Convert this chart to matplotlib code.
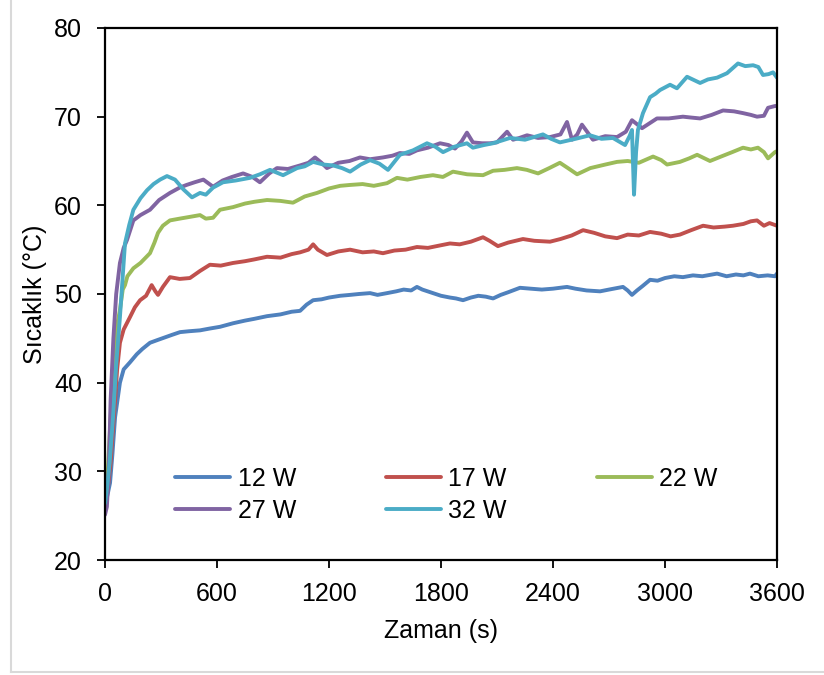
import matplotlib
matplotlib.use("Agg")
import matplotlib.pyplot as plt
from matplotlib.lines import Line2D

plt.rcParams['font.family'] = ['Liberation Sans', 'DejaVu Sans']

labels = ["12 W", "17 W", "22 W", "27 W", "32 W"]
colors = ["#4F81BD", "#C0504D", "#9BBB59", "#8064A2", "#4BACC6"]

t12 = [0, 15, 27, 40, 54, 70, 80, 100, 134, 170, 200, 241, 280, 320, 360, 402, 450, 509, 560, 616, 686, 750, 800, 868, 940, 1000, 1045, 1080, 1115, 1160, 1200, 1260, 1313, 1360, 1420, 1460, 1511, 1560, 1600, 1640, 1671, 1700, 1757, 1800, 1848, 1880, 1918, 1960, 2000, 2040, 2079, 2120, 2160, 2223, 2280, 2340, 2400, 2475, 2520, 2580, 2652, 2700, 2775, 2800, 2823, 2850, 2880, 2920, 2960, 3000, 3050, 3096, 3150, 3200, 3279, 3330, 3380, 3420, 3455, 3500, 3550, 3589, 3600]
T12 = [26.2, 27.5, 28.7, 32, 36.1, 38.5, 40, 41.5, 42.3, 43.2, 43.8, 44.5, 44.8, 45.1, 45.4, 45.7, 45.8, 45.9, 46.1, 46.3, 46.7, 47.0, 47.2, 47.5, 47.7, 48.0, 48.1, 48.8, 49.3, 49.4, 49.6, 49.8, 49.9, 50.0, 50.1, 49.9, 50.1, 50.3, 50.5, 50.4, 50.8, 50.5, 50.1, 49.8, 49.6, 49.5, 49.3, 49.6, 49.8, 49.7, 49.5, 49.9, 50.2, 50.7, 50.6, 50.5, 50.6, 50.8, 50.6, 50.4, 50.3, 50.5, 50.8, 50.4, 49.9, 50.4, 50.9, 51.6, 51.5, 51.8, 52.0, 51.9, 52.1, 52.0, 52.3, 52.0, 52.2, 52.1, 52.3, 52.0, 52.1, 52.0, 52.3]

t17 = [0, 15, 30, 45, 54, 65, 80, 100, 134, 160, 188, 220, 250, 270, 284, 310, 348, 400, 455, 509, 562, 620, 686, 750, 800, 868, 940, 1000, 1045, 1090, 1115, 1140, 1189, 1250, 1313, 1380, 1440, 1489, 1550, 1610, 1671, 1730, 1800, 1848, 1900, 1960, 2025, 2060, 2105, 2160, 2239, 2300, 2384, 2440, 2500, 2561, 2620, 2680, 2743, 2800, 2860, 2920, 2980, 3030, 3080, 3140, 3204, 3260, 3320, 3364, 3420, 3460, 3493, 3530, 3560, 3600]
T17 = [26.0, 28, 31, 35.5, 38.0, 41.5, 44.5, 46, 47.4, 48.5, 49.3, 49.8, 51.0, 50.3, 49.9, 50.8, 51.9, 51.7, 51.8, 52.6, 53.3, 53.2, 53.5, 53.7, 53.9, 54.2, 54.1, 54.5, 54.7, 55.0, 55.6, 55.0, 54.4, 54.8, 55.0, 54.7, 54.8, 54.6, 54.9, 55.0, 55.3, 55.2, 55.5, 55.7, 55.6, 55.9, 56.4, 56.0, 55.4, 55.8, 56.2, 56.0, 55.9, 56.2, 56.6, 57.2, 56.9, 56.5, 56.3, 56.7, 56.6, 57.0, 56.8, 56.5, 56.7, 57.2, 57.7, 57.5, 57.6, 57.7, 57.9, 58.2, 58.3, 57.7, 58.0, 57.7]

t22 = [0, 15, 30, 45, 54, 65, 80, 95, 107, 120, 152, 190, 241, 265, 284, 310, 348, 400, 455, 509, 540, 579, 616, 686, 750, 800, 868, 940, 1007, 1070, 1136, 1200, 1260, 1313, 1380, 1440, 1511, 1564, 1620, 1690, 1757, 1810, 1864, 1940, 2025, 2079, 2140, 2207, 2260, 2320, 2380, 2437, 2480, 2529, 2600, 2680, 2743, 2800, 2860, 2936, 2980, 3011, 3080, 3130, 3172, 3241, 3300, 3360, 3418, 3460, 3498, 3530, 3552, 3589, 3600]
T22 = [26.0, 30, 36, 41, 43.7, 46.5, 48.2, 50.5, 51.0, 52.0, 52.9, 53.5, 54.6, 55.8, 56.9, 57.7, 58.3, 58.5, 58.7, 58.9, 58.5, 58.6, 59.5, 59.8, 60.2, 60.4, 60.6, 60.5, 60.3, 61.0, 61.4, 61.9, 62.2, 62.3, 62.4, 62.2, 62.5, 63.1, 62.9, 63.2, 63.4, 63.2, 63.8, 63.5, 63.4, 63.9, 64.0, 64.2, 64.0, 63.6, 64.2, 64.8, 64.2, 63.5, 64.2, 64.6, 64.9, 65.0, 64.8, 65.5, 65.1, 64.6, 64.9, 65.3, 65.7, 65.0, 65.5, 66.0, 66.5, 66.3, 66.5, 66.0, 65.3, 66.0, 66.1]

t27 = [0, 10, 20, 30, 45, 60, 80, 100, 118, 152, 190, 241, 290, 348, 400, 437, 480, 527, 579, 630, 680, 740, 790, 830, 880, 921, 980, 1045, 1090, 1125, 1160, 1189, 1250, 1310, 1366, 1420, 1489, 1540, 1580, 1630, 1671, 1730, 1795, 1840, 1875, 1910, 1939, 1971, 2020, 2063, 2100, 2154, 2186, 2220, 2261, 2320, 2384, 2440, 2475, 2502, 2530, 2555, 2614, 2680, 2743, 2790, 2823, 2877, 2957, 3020, 3096, 3140, 3188, 3250, 3311, 3370, 3418, 3460, 3493, 3530, 3552, 3589, 3600]
T27 = [25.1, 26, 30, 38, 45, 50, 53.5, 55.2, 56.1, 58.3, 58.9, 59.5, 60.6, 61.4, 62.0, 62.3, 62.6, 62.9, 62.1, 62.8, 63.2, 63.6, 63.2, 62.6, 63.6, 64.2, 64.1, 64.5, 64.8, 65.4, 64.8, 64.2, 64.8, 65.0, 65.4, 65.2, 65.4, 65.6, 65.9, 65.8, 66.2, 66.5, 67.0, 66.8, 66.4, 67.2, 68.2, 67.1, 67.0, 67.0, 67.1, 68.3, 67.4, 67.6, 67.9, 67.6, 67.7, 68.0, 69.4, 67.4, 68.0, 69.1, 67.4, 67.8, 67.7, 68.3, 69.6, 68.7, 69.8, 69.8, 70.0, 69.9, 69.8, 70.2, 70.7, 70.6, 70.4, 70.2, 70.0, 70.1, 71.0, 71.2, 71.2]

t32 = [0, 10, 25, 43, 60, 80, 95, 107, 130, 152, 190, 225, 260, 295, 332, 375, 420, 466, 509, 540, 579, 632, 700, 777, 830, 884, 954, 1029, 1070, 1115, 1170, 1222, 1270, 1313, 1370, 1420, 1470, 1516, 1580, 1650, 1725, 1770, 1811, 1870, 1939, 1971, 2030, 2079, 2170, 2250, 2346, 2390, 2437, 2520, 2598, 2660, 2721, 2786, 2810, 2823, 2834, 2845, 2855, 2882, 2920, 2950, 2973, 3027, 3064, 3118, 3188, 3230, 3279, 3332, 3391, 3430, 3472, 3500, 3525, 3555, 3579, 3600]
T32 = [26.4, 28, 31, 36.1, 42, 47.4, 52, 55.7, 57.8, 59.5, 60.8, 61.7, 62.4, 62.9, 63.3, 62.9, 61.8, 60.9, 61.4, 61.2, 62.0, 62.6, 62.8, 63.1, 63.5, 64.0, 63.4, 64.2, 64.4, 64.9, 64.6, 64.5, 64.2, 63.8, 64.6, 65.1, 64.7, 64.0, 65.7, 66.2, 67.0, 66.6, 66.0, 66.6, 67.0, 66.5, 66.8, 67.0, 67.6, 67.4, 68.0, 67.5, 67.1, 67.5, 67.9, 67.5, 67.6, 66.8, 67.8, 68.5, 61.2, 66.0, 68.5, 70.4, 72.2, 72.6, 73.0, 73.6, 73.2, 74.5, 73.8, 74.2, 74.4, 74.9, 76.0, 75.7, 75.8, 75.6, 74.7, 74.8, 75.0, 74.4]

times = [t12, t17, t22, t27, t32]
temps = [T12, T17, T22, T27, T32]

x_ticks = [0, 600, 1200, 1800, 2400, 3000, 3600]
y_ticks = [20, 30, 40, 50, 60, 70, 80]

W, H = 824, 675
fig = plt.figure(figsize=(W / 100, H / 100), dpi=100)
ax = fig.add_axes([105 / W, 1 - 560 / H, 672 / W, 532 / H])

handles = []
for t, T, lab, c in zip(times, temps, labels, colors):
    h, = ax.plot(t, T, color=c, lw=2.8, label=lab, solid_joinstyle='round',
                 solid_capstyle='round')
    handles.append(h)

ax.set_xlim(0, 3600)
ax.set_ylim(20, 80)
ax.set_xticks(x_ticks)
ax.set_yticks(y_ticks)
ax.tick_params(axis='both', labelsize=18, direction='out', length=5.5, width=1.3, color='black')
ax.tick_params(axis='x', pad=10)
ax.tick_params(axis='y', pad=11)
for s in ax.spines.values():
    s.set_linewidth(1.6)
    s.set_color('black')

ax.set_xlabel("Zaman (s)", fontsize=18, labelpad=10)
ax.set_ylabel("Sıcaklık (°C)", fontsize=18, labelpad=5)

# matplotlib fills legend column-wise; reorder so rows read 12,17,22 / 27,32
order = [0, 3, 1, 4, 2]
leg = ax.legend([handles[i] for i in order], [labels[i] for i in order],
                ncol=3, frameon=False, fontsize=18, loc='upper left',
                bbox_to_anchor=((175 - 105) / 672, (560 - 467) / 532),
                handlelength=2.2, handletextpad=0.3, columnspacing=3.6,
                labelspacing=0.3, borderpad=0.0, borderaxespad=0.0)
for lh in leg.get_lines():
    lh.set_linewidth(2.8)

fig.add_artist(Line2D([10.5 / W, 10.5 / W], [1, 1 - 672 / H], color='#d9d9d9', lw=1.5))
fig.add_artist(Line2D([10.5 / W, 1], [1 - 672 / H, 1 - 672 / H], color='#d9d9d9', lw=1.5))

fig.savefig("out.png", dpi=100)
